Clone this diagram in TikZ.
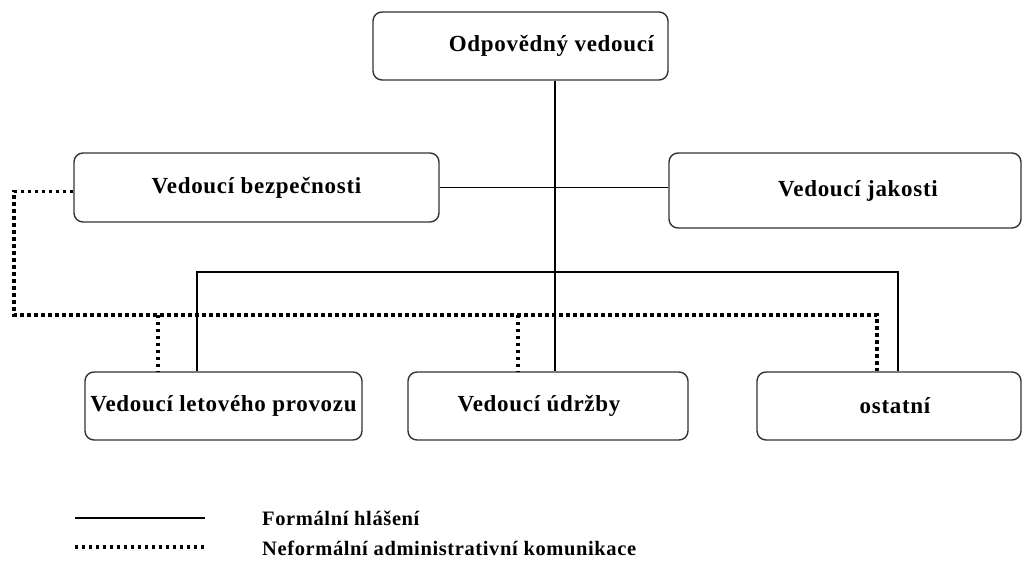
\documentclass[tikz,border=0pt]{standalone}
\usepackage{fontspec}
\setmainfont{Liberation Serif}
\newfontfamily\boxfont[LetterSpace=3]{Liberation Serif}
\begin{document}
\begin{tikzpicture}[x=1pt,y=-1pt,
  box/.style={draw=black!80, line width=1.4pt, rounded corners=9pt, fill=white,
    inner sep=0pt, font=\boxfont\bfseries\fontsize{23}{27}\selectfont},
  formal/.style={draw=black, line width=1.3pt},
  informal/.style={draw=black, line width=3.2pt, dash pattern=on 3.4pt off 3.6pt},
  legendtext/.style={anchor=west, inner sep=0pt, font=\boxfont\bfseries\fontsize{20.5}{24}\selectfont}]
\useasboundingbox (0,0) rectangle (1023,572);

% organisation boxes
\node[box, minimum width=295pt, minimum height=68pt] (head) at (520.5,46) {\hspace*{62pt}Odpovědný vedoucí};
\node[box, minimum width=365pt, minimum height=69pt] (safety) at (256.5,187.5) {Vedoucí bezpečnosti};
\node[box, minimum width=352pt, minimum height=75pt] (quality) at (845,190.5) {\hspace*{26pt}Vedoucí jakosti};
\node[box, minimum width=277pt, minimum height=68pt] (flight) at (223.5,406) {Vedoucí letového provozu};
\node[box, minimum width=280pt, minimum height=68pt] (maint) at (548,406) {Vedoucí údržby\hspace*{18pt}};
\node[box, minimum width=264pt, minimum height=68pt] (other) at (889,406) {\hspace*{12pt}ostatní};

% junction points of the reporting lines
\coordinate (spine) at (555,272);
\coordinate (busL) at (197,272);
\coordinate (busR) at (898,272);
\coordinate (infL) at (14,315);
\coordinate (infR) at (877,315);
\coordinate (infA) at (158,315);
\coordinate (infB) at (518,315);

% formal reporting
\draw[formal] (spine |- head.south) -- (spine |- maint.north);
\draw[formal] (safety.east) -- (safety.east -| quality.west);
\draw[formal] (busL |- flight.north) -- (busL) -- (busR) -- (busR |- other.north);

% informal administrative communication
\draw[informal] ([yshift=-4pt]safety.west) -| (infL) -- (infR) -- (infR |- other.north);
\draw[informal] (infA) -- (infA |- flight.north);
\draw[informal] (infB) -- (infB |- maint.north);

% legend
\coordinate (l1a) at (75,518);
\coordinate (l1b) at (205,518);
\coordinate (l2a) at (75,547);
\coordinate (l2b) at (205,547);
\draw[formal] (l1a) -- (l1b);
\draw[informal] (l2a) -- (l2b);
\node[legendtext] (lt1) at (262,518) {Formální hlášení};
\node[legendtext] (lt2) at (262,548) {Neformální administrativní komunikace};
\end{tikzpicture}
\end{document}
